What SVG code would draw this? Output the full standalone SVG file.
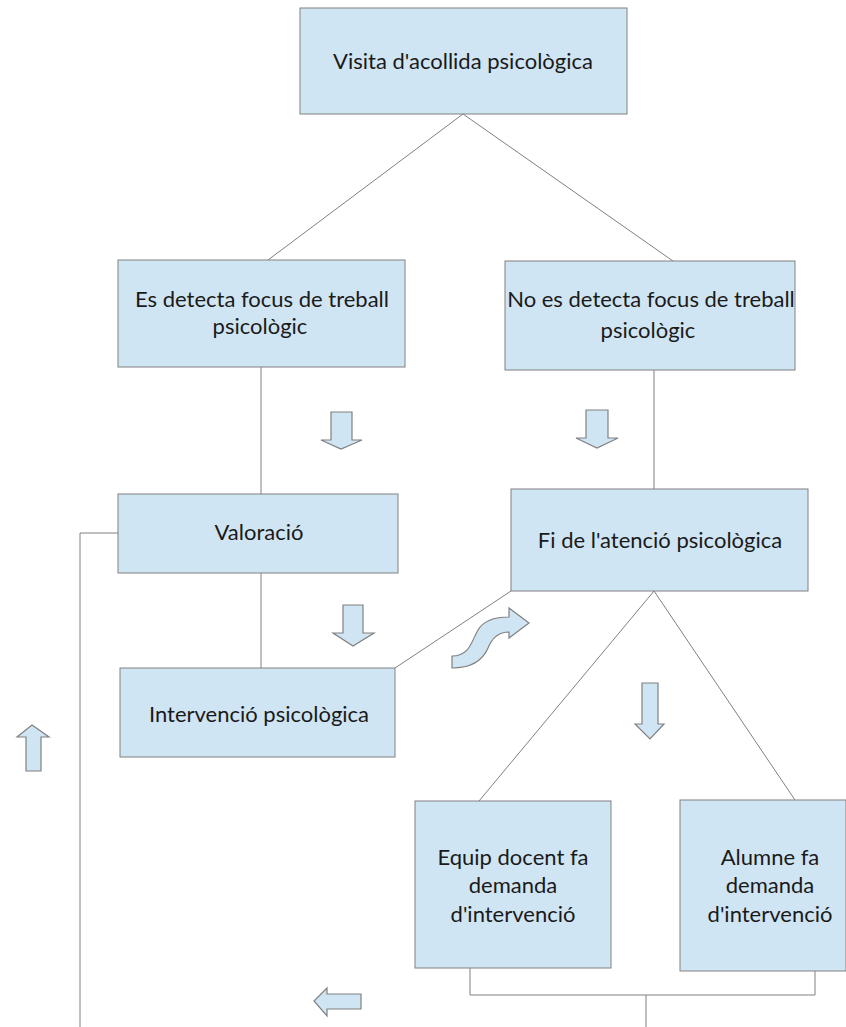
<svg xmlns="http://www.w3.org/2000/svg" width="846" height="1027" viewBox="0 0 846 1027">
<style>
.box{fill:#d0e5f3;stroke:#808080;stroke-width:1}
.ln{fill:none;stroke:#808080;stroke-width:1}
.ar{fill:#d0e5f3;stroke:#808080;stroke-width:1.2;stroke-linejoin:miter}
text{font-family:Lato,"Open Sans","Liberation Sans",sans-serif;font-size:22px;fill:#1a1a1a;text-anchor:middle}
</style>
<rect width="846" height="1027" fill="#fff"/>
<g id="connectors">
<path class="ln" d="M463,114 L268,260 M463,114 L673,261"/>
<path class="ln" d="M261,367 V494 M261,573 V668"/>
<path class="ln" d="M654,370 V489"/>
<path class="ln" d="M395,668 L511,591"/>
<path class="ln" d="M654,591 L479,801 M654,591 L795,800"/>
<path class="ln" d="M470,968 V995 H815 V971 M646,995 V1027"/>
<path class="ln" d="M118,533 H80 V1027"/>
</g>
<g id="arrows">
<path class="ar" d="M331,412 H352 V440 H362 L341,449 L321,440 H331 Z"/>
<path class="ar" d="M586,410 H608 V438 H618 L597,448 L576,438 H586 Z"/>
<path class="ar" d="M343,605 H363 V633 H374 L353,646 L333,633 H343 Z"/>
<path class="ar" d="M642,683 H658 V724 H664 L650,739 L635,724 H642 Z"/>
<path class="ar" d="M26,771 V737 H17 L32,725 L49,737 H41 V771 Z"/>
<path class="ar" d="M361,994 H327 V988 L314,1001 L327,1016 V1009 H361 Z"/>
<path class="ar" d="M452,656 C470,656 472,640 478,630 C484,620 495,617 509,617 L509,608 L529,623 L509,638 L509,632 C498,632 492,638 488,648 C482,662 470,668 452,668 Z"/>
</g>
<g id="n1"><rect class="box" x="300" y="8" width="327" height="106"/><text x="463" y="69">Visita d'acollida psicològica</text></g>
<g id="n2"><rect class="box" x="118" y="260" width="287" height="107"/><text x="262" y="307">Es detecta focus de treball</text><text x="260" y="334">psicològic</text></g>
<g id="n3"><rect class="box" x="505" y="261" width="290" height="109"/><text x="651" y="307">No es detecta focus de treball</text><text x="648" y="338">psicològic</text></g>
<g id="n4"><rect class="box" x="118" y="494" width="280" height="79"/><text x="259" y="540">Valoració</text></g>
<g id="n5"><rect class="box" x="511" y="489" width="297" height="102"/><text x="660" y="548">Fi de l'atenció psicològica</text></g>
<g id="n6"><rect class="box" x="120" y="668" width="275" height="89"/><text x="259" y="722">Intervenció psicològica</text></g>
<g id="n7"><rect class="box" x="415" y="801" width="196" height="167"/><text x="513" y="865">Equip docent fa</text><text x="513" y="893">demanda</text><text x="513" y="922">d'intervenció</text></g>
<g id="n8"><rect class="box" x="680" y="800" width="166" height="171"/><text x="770" y="865">Alumne fa</text><text x="770" y="893">demanda</text><text x="770" y="922">d'intervenció</text></g>
</svg>
